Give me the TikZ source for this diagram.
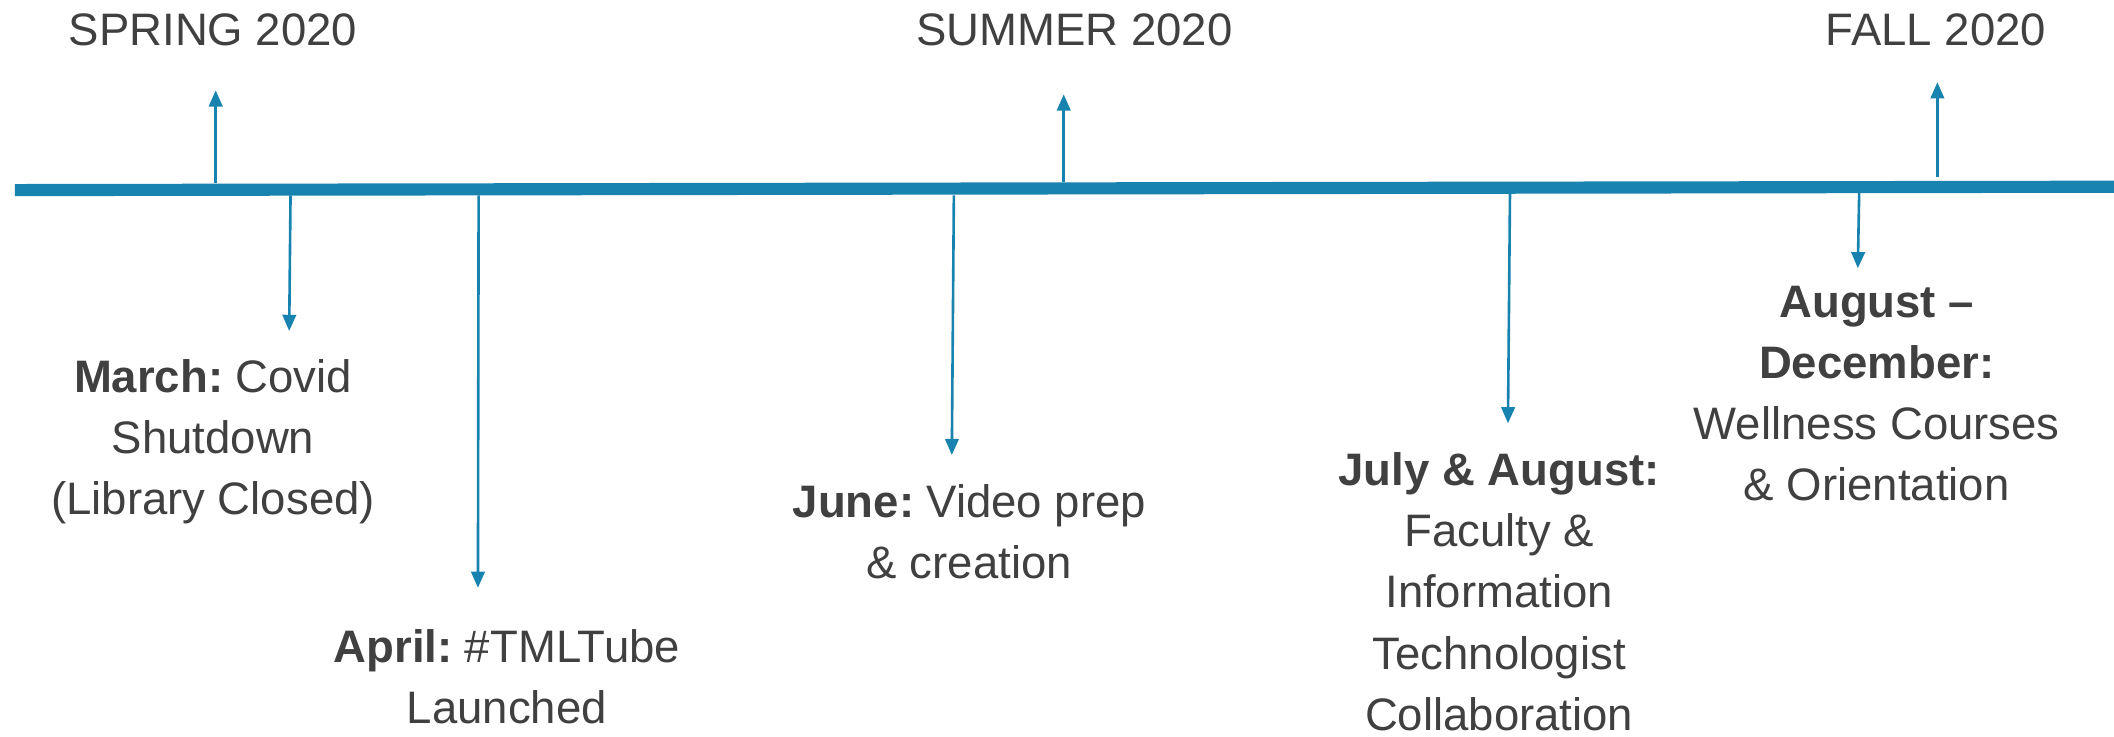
\documentclass[tikz,border=0pt]{standalone}
\usepackage{fontspec}
\setmainfont{Liberation Sans}
\usetikzlibrary{arrows.meta}
\definecolor{tlblue}{RGB}{24,131,174}
\definecolor{txtgray}{RGB}{64,64,64}
\begin{document}
\begin{tikzpicture}[x=0.01cm,y=-0.01cm,
  axisline/.style={draw=tlblue,line width=0.09cm},
  pointer/.style={draw=tlblue,line width=0.55pt,-{Triangle[width=0.1cm,length=0.12cm]}},
  lbl/.style={text=txtgray,font=\fontsize{9.6}{12.9}\selectfont,align=center,anchor=north,inner sep=0pt}
]
\useasboundingbox (0,0) rectangle (1568,546);
% timeline
\coordinate (tlL) at (11,141);
\coordinate (tlR) at (1568,138.5);
\draw[axisline] (tlL) -- (tlR);
% season labels
\node[lbl] (spring) at (158,9.6) {SPRING 2020};
\node[lbl] (summer) at (797,9.4) {SUMMER 2020};
\node[lbl] (fall) at (1436,9.4) {FALL 2020};
% event labels
\node[lbl] (march) at (158,266) {\textbf{March:}\hspace{-0.1em} Covid\\Shutdown\\(Library Closed)};
\node[lbl] (april) at (376,466) {\textbf{April:}\hspace{-0.1em} \#TMLTube\\Launched};
\node[lbl] (june) at (719,358.5) {\textbf{June:}\hspace{-0.1em} Video prep\\\& creation};
\node[lbl] (july) at (1112,335) {\textbf{July \& August:}\\Faculty \&\\Information\\Technologist\\Collaboration};
\node[lbl] (aug) at (1392,211.4) {\textbf{August –}\\\textbf{December:}\\Wellness Courses\\\& Orientation};
% arrow end points
\coordinate (sSpring) at (160,136);  \coordinate (eSpring) at (160,67);
\coordinate (sSummer) at (789,135);  \coordinate (eSummer) at (789,70);
\coordinate (sFall) at (1437,131);   \coordinate (eFall) at (1437,61);
\coordinate (sMarch) at (215.5,145); \coordinate (eMarch) at (214.5,245.5);
\coordinate (sApril) at (355,145);   \coordinate (eApril) at (354.5,436);
\coordinate (sJune) at (707.5,145);  \coordinate (eJune) at (706,337.5);
\coordinate (sJuly) at (1120,143);   \coordinate (eJuly) at (1118.5,314);
\coordinate (sAug) at (1379,143);    \coordinate (eAug) at (1378,199);
\draw[pointer] (sSpring) -- (eSpring);
\draw[pointer] (sSummer) -- (eSummer);
\draw[pointer] (sFall) -- (eFall);
\draw[pointer] (sMarch) -- (eMarch);
\draw[pointer] (sApril) -- (eApril);
\draw[pointer] (sJune) -- (eJune);
\draw[pointer] (sJuly) -- (eJuly);
\draw[pointer] (sAug) -- (eAug);
\end{tikzpicture}
\end{document}
